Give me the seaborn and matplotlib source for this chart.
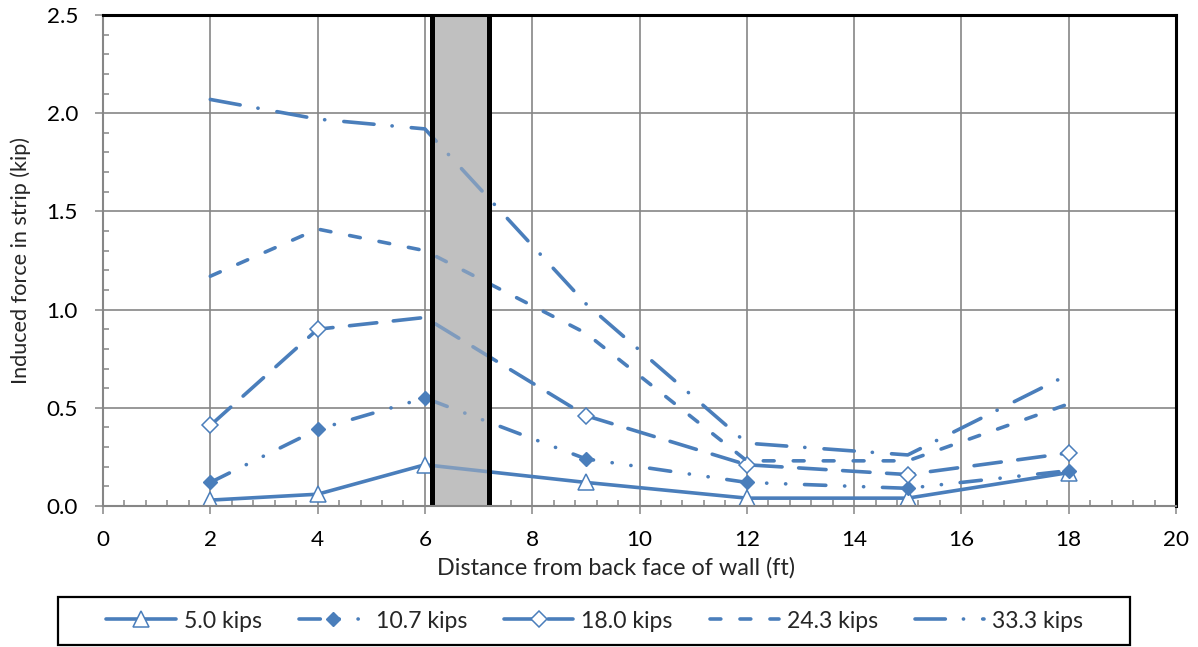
import matplotlib
matplotlib.use("Agg")
import matplotlib.pyplot as plt
import seaborn as sns
from matplotlib.lines import Line2D
from matplotlib.patches import Rectangle
from matplotlib.ticker import MultipleLocator, FormatStrFormatter

# Induced strip force vs. distance from the back face of the wall
distance_ft = [2, 4, 6, 9, 12, 15, 18]
force_5_0 = [0.03, 0.06, 0.21, 0.12, 0.04, 0.04, 0.17]
force_10_7 = [0.12, 0.39, 0.55, 0.24, 0.12, 0.09, 0.18]
force_18_0 = [0.41, 0.90, 0.96, 0.46, 0.21, 0.16, 0.27]
force_24_3 = [1.17, 1.41, 1.30, 0.88, 0.23, 0.23, 0.52]
force_33_3 = [2.07, 1.97, 1.92, 1.03, 0.32, 0.26, 0.67]
series_labels = ["5.0 kips", "10.7 kips", "18.0 kips", "24.3 kips", "33.3 kips"]
wall_span = (6.14, 7.20)

BLUE = "#4A7EBB"
GRID = "#868686"
LW = 2.6

sns.set_theme(style="white")
plt.rcParams["font.family"] = ["Lato", "DejaVu Sans"]
plt.rcParams["font.size"] = 16

fig = plt.figure(figsize=(11.98, 6.47), dpi=100)
W, H = 1198, 647
ax = fig.add_axes([103 / W, 1 - 506 / H, (1176 - 103) / W, (506 - 15) / H])

styles = [
    dict(y=force_5_0, dashes=None, marker="^", ms=11, mfc="white", mew=1.1, markevery=None),
    dict(y=force_10_7, dashes=(5.9, 5.2, 0.05, 5.2, 0.05, 5.2), marker="D", ms=7.5, mfc=BLUE, mew=1.0, markevery=None),
    dict(y=force_18_0, dashes=(7.6, 4.6), marker="D", ms=8.6, mfc="white", mew=1.1, markevery=[0, 1, 3, 4, 5, 6]),
    dict(y=force_24_3, dashes=(3.0, 5.3), marker=None, ms=0, mfc=BLUE, mew=0, markevery=None),
    dict(y=force_33_3, dashes=(8.4, 5.0, 0.05, 5.3), marker=None, ms=0, mfc=BLUE, mew=0, markevery=None),
]

handles = []
for label, st in zip(series_labels, styles):
    sns.lineplot(x=distance_ft, y=st["y"], ax=ax, color=BLUE, lw=LW, zorder=3,
                 marker=st["marker"], markersize=st["ms"], markerfacecolor=st["mfc"],
                 markeredgecolor=BLUE, markeredgewidth=st["mew"],
                 markevery=st["markevery"], solid_capstyle="round",
                 dash_capstyle="round", solid_joinstyle="round", dash_joinstyle="round")
    line = ax.lines[-1]
    if st["dashes"] is not None:
        line.set_dashes(st["dashes"])
    proxy = Line2D([], [], color=BLUE, lw=LW, marker=st["marker"], markersize=st["ms"],
                   markerfacecolor=st["mfc"], markeredgecolor=BLUE,
                   markeredgewidth=st["mew"], solid_capstyle="round",
                   dash_capstyle="round")
    if st["dashes"] is not None:
        proxy.set_dashes(st["dashes"])
    handles.append(proxy)

# Wall footprint: grey band underneath, a translucent veil over the lines,
# and heavy black faces
ax.axvspan(*wall_span, color="#c0c0c0", lw=0, zorder=1)
ax.axvspan(*wall_span, color="#c0c0c0", alpha=0.45, lw=0, zorder=4)
for xv in wall_span:
    ax.axvline(xv, color="black", lw=3.6, zorder=5)

ax.set_xlim(0, 20)
ax.set_ylim(0, 2.5)
ax.xaxis.set_major_locator(MultipleLocator(2))
ax.xaxis.set_minor_locator(MultipleLocator(0.4))
ax.yaxis.set_major_locator(MultipleLocator(0.5))
ax.yaxis.set_minor_locator(MultipleLocator(0.1))
ax.yaxis.set_major_formatter(FormatStrFormatter("%.1f"))

ax.grid(True, which="major", color=GRID, lw=1.2, zorder=0)
ax.set_axisbelow(True)
ax.tick_params(axis="both", which="major", direction="out", length=6, width=1.1,
               color=GRID, labelsize=16.2, labelcolor="black")
ax.tick_params(axis="x", which="major", pad=11)
ax.tick_params(axis="y", which="major", pad=12)
ax.tick_params(axis="both", which="minor", direction="in", length=4, width=1.1,
               color=GRID)
ax.tick_params(axis="x", which="both", bottom=True)
ax.tick_params(axis="y", which="both", left=True)

for side in ("left", "bottom"):
    ax.spines[side].set_color(GRID)
    ax.spines[side].set_linewidth(1.5)
for side in ("top", "right"):
    ax.spines[side].set_color("black")
    ax.spines[side].set_linewidth(2.2)
for sp in ax.spines.values():
    sp.set_zorder(6)

ax.set_xlabel("Distance from back face of wall (ft)", fontsize=16.8)
ax.xaxis.set_label_coords((616 - 103) / (1176 - 103), -(568 - 506) / (506 - 15))
ax.xaxis.label.set_va("center")
ax.set_ylabel("Induced force in strip (kip)", fontsize=15.6, labelpad=11)

# Legend strip below the plot
fig.patches.append(Rectangle((58 / W, 1 - 645 / H), (1130 - 58) / W, (645 - 597) / H,
                             transform=fig.transFigure, fill=False, ec="black", lw=1.6))
fig.legend(handles, series_labels, loc="center left", bbox_to_anchor=(88 / W, 1 - 621 / H),
           ncol=5, frameon=False, handlelength=3.0, handletextpad=0.35,
           columnspacing=1.6, fontsize=16.6, borderpad=0.3)

fig.savefig("out.png", dpi=100)
